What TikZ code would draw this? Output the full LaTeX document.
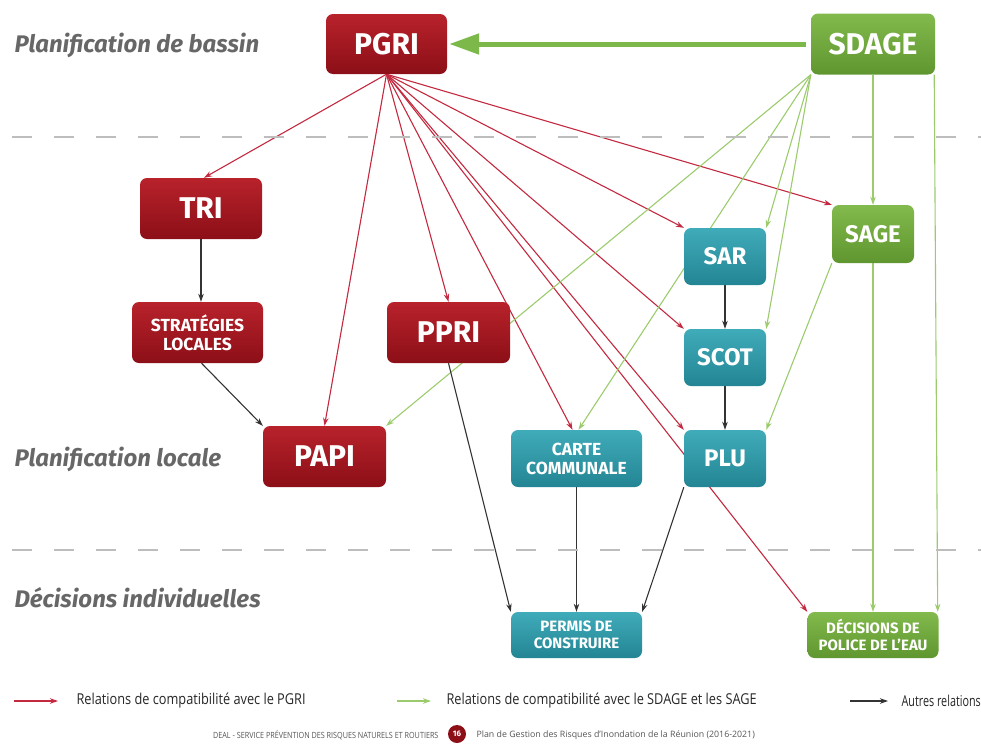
\documentclass[tikz,border=0pt]{standalone}
\usepackage{fontspec}
\setmainfont{Fira Sans}
\newfontfamily\condfont[FakeStretch=0.85]{Open Sans}
\newfontfamily\narrowfont[FakeStretch=0.72]{Open Sans}
\newfontfamily\footfont{Open Sans}
\usetikzlibrary{arrows.meta,shadings}
\pgfdeclarelayer{background}
\pgfsetlayers{background,main}
\definecolor{redtop}{HTML}{B8222B}
\definecolor{redbot}{HTML}{8C0F17}
\definecolor{tealtop}{HTML}{40ABB9}
\definecolor{tealbot}{HTML}{238594}
\definecolor{greentop}{HTML}{82BA4D}
\definecolor{greenbot}{HTML}{5F962F}
\definecolor{redline}{HTML}{C3293F}
\definecolor{greenline}{HTML}{9CCB6E}
\definecolor{thickgreen}{HTML}{7CB84A}
\definecolor{labelgray}{HTML}{676767}
\definecolor{dashgray}{HTML}{BDBDBD}
\definecolor{footgray}{HTML}{555555}
\begin{document}
\begin{tikzpicture}[x=1pt,y=-1pt,
  box/.style={rounded corners=7pt, inner sep=0pt, text=white, font=\bfseries, align=center},
  redbox/.style={box, top color=redtop, bottom color=redbot},
  tealbox/.style={box, top color=tealtop, bottom color=tealbot},
  greenbox/.style={box, top color=greentop, bottom color=greenbot},
  big/.style={font=\fontsize{30}{32}\selectfont\bfseries},
  mid/.style={font=\fontsize{24}{26}\selectfont\bfseries},
  small/.style={font=\fontsize{17.5}{19}\selectfont\bfseries},
  smaller/.style={font=\fontsize{15}{17}\selectfont\bfseries},
  rl/.style={draw=redline, line width=1.1pt, -{Stealth[length=8pt,width=5.5pt]}},
  gl/.style={draw=greenline, line width=1.1pt, -{Stealth[length=8pt,width=5.5pt]}},
  bl/.style={draw=black!80, line width=1.1pt, -{Stealth[length=8pt,width=5.5pt]}},
  sep/.style={draw=dashgray, line width=1.8pt, dash pattern=on 20pt off 22pt},
  lvl/.style={anchor=west, text=labelgray, font=\fontsize{24}{26}\selectfont\bfseries\itshape},
  leg/.style={anchor=west, text=black!85, font=\condfont\fontsize{15}{17}\selectfont},
  foot/.style={text=footgray, font=\condfont\fontsize{8.5}{10}\selectfont}]
\useasboundingbox (0,0) rectangle (981,747);
\clip (0,0) rectangle (981,747);

% separators
\draw[sep] (12,137) -- (981,137);
\draw[sep] (12,550) -- (981,550);

% level labels
\node[lvl] (l1) at (11,45) {Planification de bassin};
\node[lvl] (l2) at (11,459) {Planification locale};
\node[lvl] (l3) at (11,598) {Décisions individuelles};

% nodes
\node[redbox, big, minimum width=121pt, minimum height=60pt] (pgri) at (386.5,44) {PGRI};
\node[greenbox, big, minimum width=124pt, minimum height=61pt] (sdage) at (873,44) {SDAGE};
\node[redbox, big, minimum width=122pt, minimum height=61pt] (tri) at (201,208.5) {TRI};
\node[redbox, small, minimum width=131pt, minimum height=61pt] (strat) at (197.5,332.5) {STRATÉGIES\\LOCALES};
\node[redbox, big, minimum width=123pt, minimum height=61pt] (ppri) at (448.5,332.5) {PPRI};
\node[redbox, big, minimum width=123pt, minimum height=61pt] (papi) at (324.5,456.5) {PAPI};
\node[tealbox, small, minimum width=131pt, minimum height=57pt] (carte) at (576.5,458.5) {CARTE\\COMMUNALE};
\node[tealbox, mid, minimum width=82pt, minimum height=57pt] (sar) at (725,256.5) {SAR};
\node[tealbox, mid, minimum width=82pt, minimum height=57pt] (scot) at (725,357.5) {SCOT};
\node[tealbox, mid, minimum width=82pt, minimum height=57pt] (plu) at (725,458.5) {PLU};
\node[greenbox, mid, minimum width=82pt, minimum height=58pt] (sage) at (873,234) {SAGE};
\node[tealbox, smaller, minimum width=131pt, minimum height=46pt] (permis) at (576.5,635) {PERMIS DE\\CONSTRUIRE};
\node[greenbox, smaller, minimum width=131pt, minimum height=46pt] (dec) at (873,635) {DÉCISIONS DE\\POLICE DE L’EAU};

\begin{pgfonlayer}{background}
% thick SDAGE -> PGRI
\draw[draw=thickgreen, line width=5pt, -{Triangle[length=30pt,width=20pt]}, shorten >=2pt, shorten <=5pt] (sdage.west) -- (pgri.east);

% red relations from PGRI
\draw[rl] (pgri.south) -- ([xshift=3pt]tri.north);
\draw[rl] (pgri.south) -- (papi.north);
\draw[rl] (pgri.south) -- (ppri.north);
\draw[rl] (pgri.south) -- ([xshift=-4pt]carte.north);
\draw[rl] (pgri.south) -- (plu.north west);
\draw[rl] (pgri.south) -- (dec.north west);
\draw[rl] (pgri.south) -- (scot.north west);
\draw[rl] (pgri.south) -- (sar.north west);
\draw[rl] (pgri.south) -- (sage.north west);

% green relations
\draw[gl] (sdage.south west) -- (papi.north east);
\draw[gl] (sdage.south west) -- ([xshift=2pt]carte.north);
\draw[gl] (sdage.south west) -- (sar.north east);
\draw[gl] (sdage.south west) -- (scot.north east);
\draw[gl] (sdage.south) -- (sage.north);
\draw[gl] ([xshift=-1pt]sdage.south east) -- ([xshift=-1pt]dec.north east);
\draw[gl] (sage.south) -- (dec.north);
\draw[gl] (sage.south west) -- (plu.north east);

% black relations
\draw[bl] (tri.south) -- ([xshift=3.5pt]strat.north);
\draw[bl] ([xshift=4pt]strat.south) -- (papi.north west);
\draw[bl] (ppri.south) -- (permis.north west);
\draw[bl] (carte.south) -- (permis.north);
\draw[bl] (plu.south west) -- (permis.north east);
\draw[bl] (sar.south) -- (scot.north);
\draw[bl] (scot.south) -- (plu.north);
\end{pgfonlayer}

% legend
\coordinate (r1) at (14,701);  \coordinate (r2) at (58,701);
\coordinate (g1) at (397,701); \coordinate (g2) at (431,701);
\coordinate (b1) at (850,701); \coordinate (b2) at (888,701);
\draw[rl] (r1) -- (r2);
\draw[gl] (g1) -- (g2);
\draw[bl] (b1) -- (b2);
\node[leg] (lr) at (73,701) {Relations de compatibilité avec le PGRI};
\node[leg] (lg) at (443,701) {Relations de compatibilité avec le SDAGE et les SAGE};
\node[leg, font=\narrowfont\fontsize{15}{17}\selectfont] (lb) at (898,701) {Autres relations};

% footer
\node[foot, anchor=east] (f1) at (442,735) {DEAL - SERVICE PRÉVENTION DES RISQUES NATURELS ET ROUTIERS};
\node[circle, fill=redbot, inner sep=0pt, minimum size=18pt, text=white, font=\fontsize{8}{9}\selectfont\bfseries] (pg) at (457,734) {16};
\node[foot, font=\footfont\fontsize{8.8}{10}\selectfont, anchor=west] (f2) at (473,735) {Plan de Gestion des Risques d’Inondation de la Réunion (2016-2021)};
\end{tikzpicture}
\end{document}
